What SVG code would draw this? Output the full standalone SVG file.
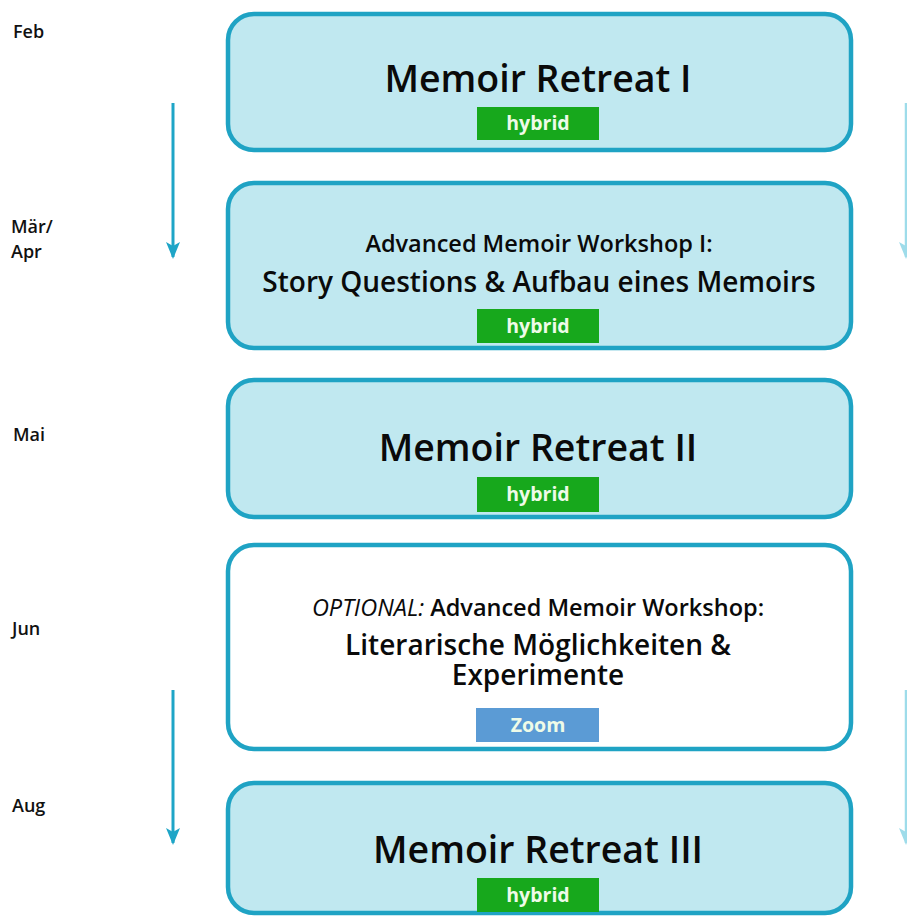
<svg xmlns="http://www.w3.org/2000/svg" width="907" height="916" viewBox="0 0 907 916">
<defs>
<marker id="ah" markerWidth="17" markerHeight="14" viewBox="0 0 17 14" refX="15" refY="7" orient="auto" markerUnits="userSpaceOnUse">
<path d="M0,0 L17,7 L0,14 L4,7 Z" fill="#1ea5c7"/>
</marker>
<marker id="ahl" markerWidth="17" markerHeight="14" viewBox="0 0 17 14" refX="15" refY="7" orient="auto" markerUnits="userSpaceOnUse">
<path d="M0,0 L17,7 L0,14 L4,7 Z" fill="#9edcea"/>
</marker>
<style>
.box{fill:#c0e8f0;stroke:#1fa3c4;stroke-width:4.5}
.wbox{fill:#ffffff;stroke:#1fa3c4;stroke-width:4.5}
.t{font-family:"Open Sans","DejaVu Sans",sans-serif;fill:#0a0a0a;text-anchor:middle}
.big{font-size:37.5px;font-weight:600}
.mid{font-size:28px;font-weight:600}
.sm{font-size:23.5px;font-weight:600}
.mon{font-family:"Open Sans","DejaVu Sans",sans-serif;font-size:18px;font-weight:600;fill:#111}
.badge{font-family:"Open Sans","DejaVu Sans",sans-serif;font-size:19.5px;font-weight:700;fill:#eefbe8;text-anchor:middle}
.g{fill:#17a81c}
.b{fill:#5b9bd5}
.arr{stroke:#1ea5c7;stroke-width:3;fill:none}
.arrl{stroke:#9edcea;stroke-width:2.5;fill:none}
</style>
</defs>
<rect width="907" height="916" fill="#ffffff"/>

<g id="months">
<text class="mon" x="13" y="38">Feb</text>
<text class="mon" x="11" y="233">Mär/<tspan x="11" y="258">Apr</tspan></text>
<text class="mon" x="13" y="441">Mai</text>
<text class="mon" x="12" y="635">Jun</text>
<text class="mon" x="12" y="812">Aug</text>
</g>

<g id="connectors">
<line class="arr" x1="173" y1="103" x2="173" y2="257" marker-end="url(#ah)"/>
<line class="arr" x1="173" y1="690" x2="173" y2="843" marker-end="url(#ah)"/>
<line class="arrl" x1="906" y1="103" x2="906" y2="257" marker-end="url(#ahl)"/>
<line class="arrl" x1="906" y1="690" x2="906" y2="843" marker-end="url(#ahl)"/>
</g>

<g id="retreat1">
<rect class="box" x="228" y="14" width="623" height="136" rx="26"/>
<text class="t big" x="538" y="92">Memoir Retreat I</text>
<rect class="g" x="477" y="107" width="122" height="33"/>
<text class="badge" x="538" y="130">hybrid</text>
</g>

<g id="workshop1">
<rect class="box" x="228" y="183" width="623" height="165" rx="26"/>
<text class="t sm" x="539" y="252">Advanced Memoir Workshop I:</text>
<text class="t mid" x="539" y="292">Story Questions &amp; Aufbau eines Memoirs</text>
<rect class="g" x="477" y="309" width="122" height="34"/>
<text class="badge" x="538" y="333">hybrid</text>
</g>

<g id="retreat2">
<rect class="box" x="228" y="380" width="623" height="137" rx="26"/>
<text class="t big" x="538" y="461">Memoir Retreat II</text>
<rect class="g" x="477" y="477" width="122" height="35"/>
<text class="badge" x="538" y="501">hybrid</text>
</g>

<g id="workshop2">
<rect class="wbox" x="228" y="545" width="623" height="204" rx="26"/>
<text class="t sm" x="538" y="616"><tspan font-style="italic" font-weight="400">OPTIONAL:</tspan> Advanced Memoir Workshop:</text>
<text class="t mid" x="538" y="655">Literarische Möglichkeiten &amp;<tspan x="538" y="685">Experimente</tspan></text>
<rect class="b" x="476" y="708" width="123" height="34"/>
<text class="badge" x="538" y="732">Zoom</text>
</g>

<g id="retreat3">
<rect class="box" x="228" y="783" width="623" height="130" rx="26"/>
<text class="t big" x="538" y="863">Memoir Retreat III</text>
<rect class="g" x="477" y="878" width="122" height="34"/>
<text class="badge" x="538" y="902">hybrid</text>
</g>
</svg>
